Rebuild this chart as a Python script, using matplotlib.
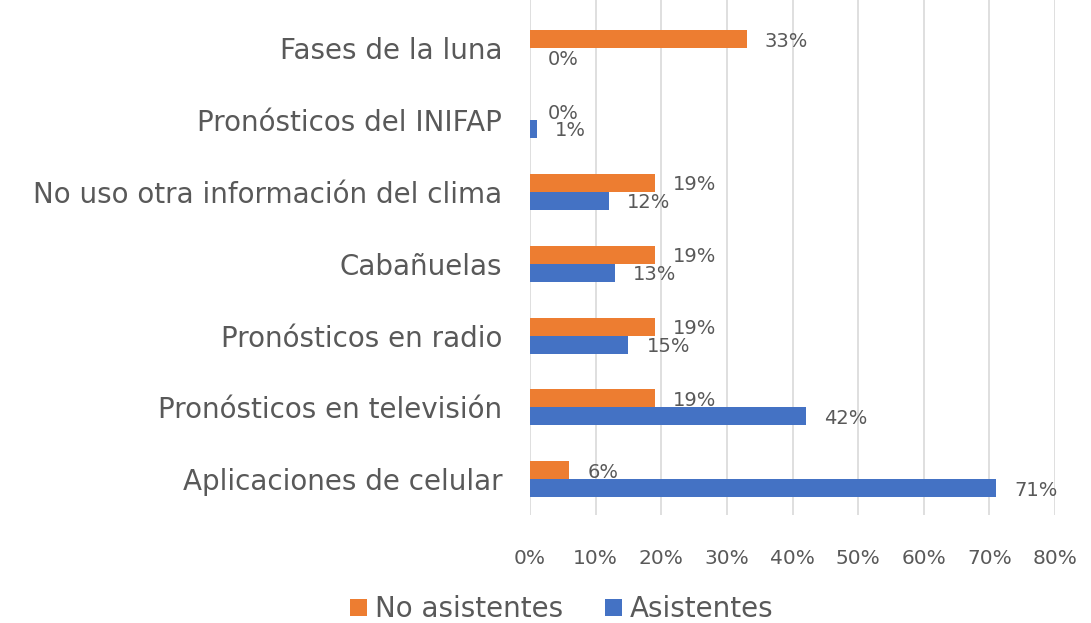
import numpy as np
import matplotlib
matplotlib.use("Agg")
import matplotlib.pyplot as plt

plt.rcParams['font.family'] = ['DejaVu Sans']

# DATA
categorias = ['Aplicaciones de celular', 'Pronósticos en televisión',
              'Pronósticos en radio', 'Cabañuelas',
              'No uso otra información del clima',
              'Pronósticos del INIFAP', 'Fases de la luna']
no_asistentes = [6, 19, 19, 19, 19, 0, 33]
asistentes = [71, 42, 15, 13, 12, 1, 0]
xticks = [0, 10, 20, 30, 40, 50, 60, 70, 80]

naranja = '#ED7D31'
azul = '#4472C4'
gris = '#595959'

fig = plt.figure(figsize=(10.91, 6.23), dpi=100)
ax = fig.add_axes([0.4858, 0.173, 0.4812, 0.827])

y = np.arange(len(categorias))
h = 0.25
b1 = ax.barh(y + h / 2, no_asistentes, height=h, color=naranja, label='No asistentes', zorder=3)
b2 = ax.barh(y - h / 2, asistentes, height=h, color=azul, label='Asistentes', zorder=3)

# etiquetas de valor
for bars in (b1, b2):
    for bar in bars:
        w = bar.get_width()
        ax.annotate(f'{w:.0f}%', (w, bar.get_y() + bar.get_height() / 2),
                    xytext=(18, -2), textcoords='offset pixels',
                    va='center', ha='left', fontsize=14, color=gris, zorder=4)

ax.set_xlim(0, 80)
ax.set_ylim(-0.5, 6.67)
ax.set_xticks(xticks)
ax.set_xticklabels([f'{t}%' for t in xticks], fontsize=14.5, color=gris)
ax.set_yticks(y)
ax.set_yticklabels(categorias, fontsize=20, color=gris)
ax.tick_params(axis='both', length=0)
ax.tick_params(axis='x', pad=24)
ax.tick_params(axis='y', pad=20)
ax.grid(axis='x', color='#D9D9D9', linewidth=1.2, zorder=0)
for s in ax.spines.values():
    s.set_visible(False)

handles, labels = ax.get_legend_handles_labels()
fig.legend(handles, labels, loc='center', bbox_to_anchor=(0.515, 0.022),
           ncol=2, frameon=False, fontsize=20, labelcolor=gris,
           handlelength=0.6, handleheight=0.6, handletextpad=0.3, columnspacing=1.5)

fig.savefig('out.png', dpi=100)
